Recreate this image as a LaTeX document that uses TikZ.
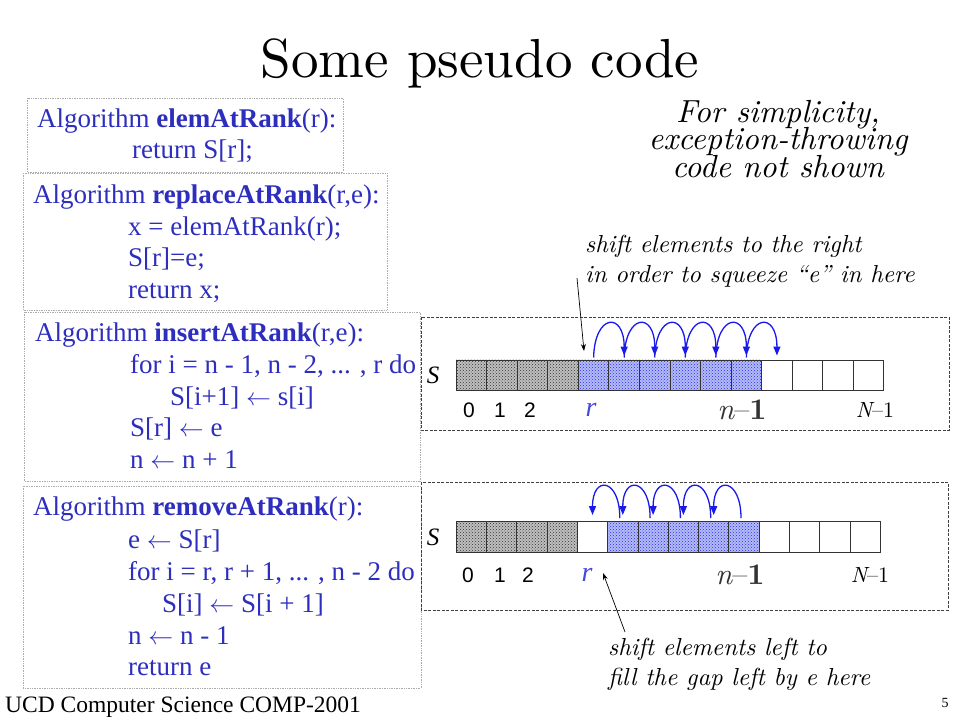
\documentclass[tikz,border=0pt]{standalone}
\usepackage{fontspec}
\setmainfont{Liberation Serif}
\newfontfamily\headfont{lmroman10-regular.otf}
\newfontfamily\slantfont{lmroman10-italic.otf}
\newfontfamily\heavyfont{lmroman10-bold.otf}
\newfontfamily\idxfont{Liberation Sans}
\usetikzlibrary{arrows.meta,patterns}
\definecolor{codeblue}{RGB}{45,45,190}
\definecolor{arcblue}{RGB}{25,25,235}
\definecolor{rblue}{RGB}{70,70,225}
\definecolor{cellblue}{RGB}{180,188,242}

\begin{document}
\begin{tikzpicture}[
			x = 1pt, y = -1pt,
			codebox/.style = {draw=gray!65, densely dotted, line width=0.7pt},
			code/.style = {anchor=base west, inner sep=0pt, text=codeblue, font=\fontsize{27}{32}\selectfont},
			note/.style = {anchor=base west, inner sep=0pt, font=\slantfont\fontsize{24.6}{31}\selectfont},
			remark/.style = {anchor=base, inner sep=0pt, font=\slantfont\fontsize{32}{25}\selectfont},
			panel/.style = {draw=black!75, line width=0.9pt, dash pattern=on 3pt off 1.5pt},
			cell/.style = {draw=black!80, line width=0.9pt, minimum height=30.5pt, inner sep=0pt, anchor=north west},
			greycell/.style = {cell, preaction={fill=gray!50}, pattern=crosshatch dots, pattern color=black!80},
			bluecell/.style = {cell, preaction={fill=cellblue}, pattern=crosshatch dots, pattern color=blue!85},
			idx/.style = {inner sep=0pt, font=\idxfont\fontsize{21}{21}\selectfont},
			shiftarc/.style = {draw=arcblue, line width=1.3pt, -{Triangle[length=9pt,width=7pt]}},
			pointer/.style = {draw=black, line width=0.7pt, -{Stealth[length=7pt,width=5pt]}}
		]

			\def\tw{30.55}
			\def\bw{30.3}

			\useasboundingbox (0,0) rectangle (960,720);

			\node[anchor=base, inner sep=0pt, font=\headfont\fontsize{55}{60}\selectfont] (title) at (480,77) {Some pseudo code};

			\draw[codebox] (27,98) rectangle (343,172);
			\node[code] (ea1) at (37,127) {Algorithm \textbf{elemAtRank}(r):};
			\node[code] (ea2) at (132,158) {return S[r];};

			\draw[codebox] (23,173) rectangle (387,310);
			\node[code] (ra1) at (33,203) {Algorithm \textbf{replaceAtRank}(r,e):};
			\node[code] (ra2) at (128,235) {x = elemAtRank(r);};
			\node[code] (ra3) at (128,266.5) {S[r]=e;};
			\node[code] (ra4) at (128,298) {return x;};

			\draw[codebox] (24,312) rectangle (420,481);
			\node[code] (ia1) at (35,341.5) {Algorithm \textbf{insertAtRank}(r,e):};
			\node[code] (ia2) at (130,373) {for i = n - 1, n - 2, ... , r do};
			\node[code] (ia3) at (170,405) {S[i+1] $\leftarrow$ s[i]};
			\node[code] (ia4) at (130,436.5) {S[r] $\leftarrow$ e};
			\node[code] (ia5) at (130,468) {n $\leftarrow$ n + 1};

			\draw[codebox] (23,486) rectangle (421,688);
			\node[code] (rm1) at (33,515) {Algorithm \textbf{removeAtRank}(r):};
			\node[code] (rm2) at (128,548) {e $\leftarrow$ S[r]};
			\node[code] (rm3) at (128,580) {for i = r, r + 1, ... , n - 2 do};
			\node[code] (rm4) at (162,612) {S[i] $\leftarrow$ S[i + 1]};
			\node[code] (rm5) at (128,644) {n $\leftarrow$ n - 1};
			\node[code] (rm6) at (128,675) {return e};

			\node[remark] (rk1) at (778,122) {For simplicity,};
			\node[remark] (rk2) at (778,149.5) {exception-throwing};
			\node[remark] (rk3) at (778,177) {code not shown};

			\node[note] (sq1) at (585,252) {shift elements to the right};
			\node[note] (sq2) at (585,282) {in order to squeeze “e” in here};

			\draw[panel] (421,317) rectangle (949,430);
			\node[font=\fontsize{25}{25}\selectfont\itshape] (ts) at (433,375) {S};
			\foreach \i in {0,...,3}
				\node[greycell, minimum width=\tw] (t\i) at ({455.7+\i*\tw},359.5) {};
			\foreach \i in {4,...,9}
				\node[bluecell, minimum width=\tw] (t\i) at ({455.7+\i*\tw},359.5) {};
			\foreach \i in {10,...,13}
				\node[cell, minimum width=\tw] (t\i) at ({455.7+\i*\tw},359.5) {};
			\foreach \i/\j in {4/5,5/6,6/7,7/8,8/9,9/10}
				\draw[shiftarc] ([yshift=2pt]t\i.north) .. controls +(1,-44) and +(0,-44) .. ([yshift=4pt]t\j.north);
			\node[idx] (t0l) at (469,410) {0};
			\node[idx] (t1l) at (500,410) {1};
			\node[idx] (t2l) at (530,410) {2};
			\node[inner sep=0pt, text=rblue, font=\fontsize{28}{28}\selectfont\itshape] (trl) at (591,410) {r};
			\node[inner sep=0pt, text=black!80, font=\fontsize{30}{30}\selectfont] (tnl) at (742,410) {{\slantfont n}{\headfont –}{\heavyfont 1}};
			\node[inner sep=0pt, font=\fontsize{22}{22}\selectfont] (tNl) at (875,410) {{\slantfont N}{\headfont –1}};

			\coordinate (sqfrom) at (577,278);
			\coordinate (sqto) at (584,351);
			\draw[pointer] (sqfrom) -- (sqto);

			\draw[panel] (421,482) rectangle (948,610);
			\node[font=\fontsize{25}{25}\selectfont\itshape] (bs) at (433,537) {S};
			\foreach \i in {0,...,3}
				\node[greycell, minimum width=\bw] (b\i) at ({455.7+\i*\bw},521) {};
			\node[cell, minimum width=\bw] (b4) at ({455.7+4*\bw},521) {};
			\foreach \i in {5,...,9}
				\node[bluecell, minimum width=\bw] (b\i) at ({455.7+\i*\bw},521) {};
			\foreach \i in {10,...,13}
				\node[cell, minimum width=\bw] (b\i) at ({455.7+\i*\bw},521) {};
			\foreach \i/\j in {5/4,6/5,7/6,8/7,9/8}
				\draw[shiftarc] ([xshift=-3pt,yshift=3pt]b\i.north) .. controls +(0,-40) and +(0,-40) .. ([yshift=6pt]b\j.north);
			\node[idx] (b0l) at (468,575) {0};
			\node[idx] (b1l) at (500,575) {1};
			\node[idx] (b2l) at (528,575) {2};
			\node[inner sep=0pt, text=rblue, font=\fontsize{28}{28}\selectfont\itshape] (brl) at (587,575) {r};
			\node[inner sep=0pt, text=black!80, font=\fontsize{30}{30}\selectfont] (bnl) at (740,575) {{\slantfont n}{\headfont –}{\heavyfont 1}};
			\node[inner sep=0pt, font=\fontsize{22}{22}\selectfont] (bNl) at (870,575) {{\slantfont N}{\headfont –1}};

			\coordinate (gapfrom) at (625,632);
			\coordinate (gapto) at (603,573);
			\draw[pointer] (gapfrom) -- (gapto);

			\node[note] (gp1) at (608,655) {shift elements left to};
			\node[note] (gp2) at (608,685) {fill the gap left by e here};

			\node[anchor=base west, inner sep=0pt, font=\fontsize{23.5}{26}\selectfont] (footer) at (5,712) {UCD Computer Science COMP-2001};
			\node[inner sep=0pt, font=\fontsize{14}{16}\selectfont] (pageno) at (945,703) {5};

		\end{tikzpicture}
\end{document}
